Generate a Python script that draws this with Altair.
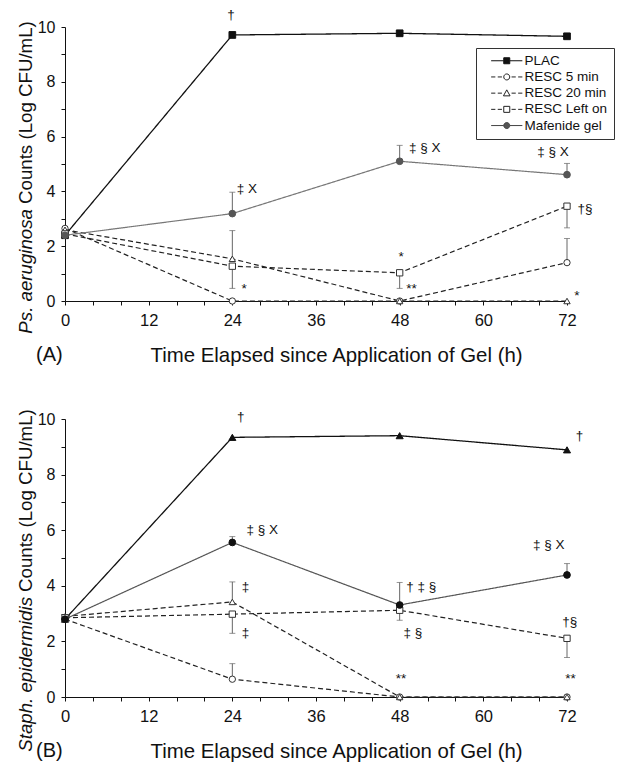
import altair as alt
import pandas as pd

FONT = "Liberation Sans"

hours = [0, 24, 48, 72]
series = ["PLAC", "RESC 5 min", "RESC 20 min", "RESC Left on", "Mafenide gel"]

# Panel A: Ps. aeruginosa (Log CFU/mL)
a_plac = [2.40, 9.71, 9.77, 9.66]
a_resc5 = [2.65, 0.0, 0.0, 1.40]
a_resc20 = [2.60, 1.54, 0.0, 0.0]
a_left = [2.45, 1.27, 1.03, 3.46]
a_maf = [2.40, 3.19, 5.10, 4.61]

# Panel B: Staph. epidermidis (Log CFU/mL)
b_plac = [2.80, 9.34, 9.40, 8.89]
b_resc5 = [2.80, 0.64, 0.0, 0.0]
b_resc20 = [2.90, 3.42, 0.0, 0.0]
b_left = [2.85, 2.98, 3.12, 2.11]
b_maf = [2.80, 5.56, 3.31, 4.39]

# one-sided error bars: series, hour, end of bar
a_err_series = ["Mafenide gel", "RESC 20 min", "RESC Left on", "Mafenide gel",
                "RESC Left on", "Mafenide gel", "RESC Left on", "RESC 5 min"]
a_err_hour = [24, 24, 24, 48, 48, 72, 72, 72]
a_err_end = [3.97, 2.57, 0.46, 5.68, 0.46, 5.02, 2.67, 2.28]

b_err_series = ["Mafenide gel", "RESC 20 min", "RESC Left on", "RESC 5 min",
                "Mafenide gel", "RESC Left on", "Mafenide gel", "RESC Left on"]
b_err_hour = [24, 24, 24, 24, 48, 48, 72, 72]
b_err_end = [5.77, 4.14, 2.29, 1.20, 4.12, 2.76, 4.80, 1.42]

# significance annotations
a_ann_text = ["†", "‡ X", "*", "‡ § X", "*", "**", "‡ § X", "†§", "*"]
a_ann_x = [23.8, 26.1, 25.7, 51.6, 48.2, 49.7, 70.0, 74.6, 73.4]
a_ann_y = [10.42, 4.08, 0.45, 5.58, 1.6, 0.45, 5.44, 3.35, 0.2]

b_ann_text = ["†", "‡ § X", "‡", "‡", "† ‡ §", "‡ §", "**", "†", "‡ § X", "†§", "**"]
b_ann_x = [25.2, 28.3, 25.9, 25.9, 51.1, 49.9, 48.2, 73.8, 69.4, 72.4, 72.5]
b_ann_y = [10.06, 6.01, 3.94, 2.32, 3.94, 2.32, 0.65, 9.40, 5.47, 2.71, 0.65]

x_ticks = list(range(0, 73, 4))
y_ticks = list(range(0, 11))

# legend symbols (line + marker) as custom paths
legend_paths = [
    "M0.4,0H2.5M3.5,0H5.6M2.5,-0.5H3.5V0.5H2.5Z",
    "M0.4,0H1.1M1.5,0H2.2M3.8,0H4.5M4.9,0H5.6M2.5,0A0.5,0.5 0 1,0 3.5,0A0.5,0.5 0 1,0 2.5,0Z",
    "M0.4,0H1.1M1.5,0H2.2M3.8,0H4.5M4.9,0H5.6M3.0,-0.55L3.55,0.45H2.45Z",
    "M0.4,0H1.1M1.5,0H2.2M3.8,0H4.5M4.9,0H5.6M2.5,-0.5H3.5V0.5H2.5Z",
    "M0.4,0H2.5M3.5,0H5.6M2.5,0A0.5,0.5 0 1,0 3.5,0A0.5,0.5 0 1,0 2.5,0Z",
]
legend_fills = ["#111111", "white", "white", "white", "#555555"]
legend_strokes = ["#111111", "#222222", "#222222", "#222222", "#444444"]

styles_a = {
    "PLAC": dict(line="#111111", dash=[1, 0], width=1.3, shape="square", fill="#111111", stroke="#111111", size=45),
    "RESC 5 min": dict(line="#222222", dash=[5, 3], width=1.2, shape="circle", fill="white", stroke="#333333", size=40),
    "RESC 20 min": dict(line="#222222", dash=[5, 3], width=1.2, shape="triangle-up", fill="white", stroke="#333333", size=40),
    "RESC Left on": dict(line="#222222", dash=[5, 3], width=1.2, shape="square", fill="white", stroke="#333333", size=40),
    "Mafenide gel": dict(line="#777777", dash=[1, 0], width=1.2, shape="circle", fill="#555555", stroke="#555555", size=45),
}
styles_b = dict(styles_a)
styles_b["PLAC"] = dict(styles_a["PLAC"], shape="triangle-up", size=50)
styles_b["Mafenide gel"] = dict(line="#555555", dash=[1, 0], width=1.2, shape="circle", fill="#111111", stroke="#111111", size=45)

x_axis = alt.Axis(
    values=x_ticks, labelExpr="datum.value % 12 === 0 ? datum.label : ''",
    title="Time Elapsed since Application of Gel (h)", titleX=271, titleY=60,
    titleBaseline="alphabetic", titleAlign="center", titleFontSize=20.4,
    titleFontWeight="normal", titleFont=FONT, labelFont=FONT, labelFontSize=16.5,
    labelPadding=7, tickSize=4, domainColor="#111", tickColor="#111",
    labelColor="#111", titleColor="#111", grid=False, labelFlush=False,
)
y_axis = alt.Axis(
    values=y_ticks, labelExpr="datum.value % 2 === 0 ? datum.label : ''",
    title=None, labelFont=FONT, labelFontSize=16, labelPadding=6, tickSize=4,
    domainColor="#111", tickColor="#111", labelColor="#111", grid=False,
)


def xenc(field="hour"):
    return alt.X(f"{field}:Q", scale=alt.Scale(domain=[0, 72], nice=False), axis=x_axis)


def yenc(field="value"):
    return alt.Y(f"{field}:Q", scale=alt.Scale(domain=[0, 10], nice=False), axis=y_axis)


def panel(vals, styles, err_s, err_h, err_e, ann_t, ann_x, ann_y, height,
          t_it, t_rest, split, letter, with_legend):
    layers = []
    data = {s: v for s, v in zip(series, vals)}
    for s in series:
        st = styles[s]
        df = pd.DataFrame({"hour": hours, "value": data[s]})
        layers.append(alt.Chart(df).mark_line(
            color=st["line"], strokeWidth=st["width"], strokeDash=st["dash"]
        ).encode(x=xenc(), y=yenc()))
    start = [data[s][hours.index(h)] for s, h in zip(err_s, err_h)]
    edf = pd.DataFrame({"hour": err_h, "start": start, "end": err_e})
    layers.append(alt.Chart(edf).mark_rule(color="#666666", strokeWidth=1).encode(
        x=xenc(), y=yenc("start"), y2="end"))
    layers.append(alt.Chart(edf).mark_tick(color="#666666", orient="horizontal",
                                           size=6, thickness=1).encode(x=xenc(), y=yenc("end")))
    for s in series:
        st = styles[s]
        df = pd.DataFrame({"hour": hours, "value": data[s]})
        layers.append(alt.Chart(df).mark_point(
            shape=st["shape"], filled=True, fill=st["fill"], stroke=st["stroke"],
            strokeWidth=1, size=st["size"], opacity=1
        ).encode(x=xenc(), y=yenc()))
    adf = pd.DataFrame({"hour": ann_x, "value": ann_y, "label": ann_t})
    layers.append(alt.Chart(adf).mark_text(font=FONT, fontSize=13.5, color="#111111",
                                           baseline="middle", align="center").encode(
        x=xenc(), y=yenc(), text="label:N"))
    layers.append(alt.Chart(pd.DataFrame({"t": [t_it]})).mark_text(
        font=FONT, fontSize=18.7, fontStyle="italic", angle=270, align="right",
        baseline="middle", color="#111").encode(
        text="t:N", x=alt.value(-39), y=alt.value(split)))
    layers.append(alt.Chart(pd.DataFrame({"t": [t_rest]})).mark_text(
        font=FONT, fontSize=18.7, angle=270, align="left", dx=5,
        baseline="middle", color="#111").encode(
        text="t:N", x=alt.value(-39), y=alt.value(split)))
    layers.append(alt.Chart(pd.DataFrame({"t": [letter]})).mark_text(
        font=FONT, fontSize=20, align="left", baseline="alphabetic", color="#111").encode(
        text="t:N", x=alt.value(-29), y=alt.value(height + 60)))
    if with_legend:
        ldf = pd.DataFrame({"series": series})
        leg = alt.Legend(
            title=None, orient="none", legendX=411, legendY=21, symbolSize=144,
            symbolStrokeWidth=1, labelFont=FONT,
            labelFontSize=13.5, labelColor="#111", labelOffset=29, padding=6,
            rowPadding=1.2, strokeColor="#333", fillColor="white", symbolOpacity=1,
            labelExpr="datum.label + '\u2003'",
        )
        layers.append(alt.Chart(ldf).mark_point(
            filled=True, opacity=1, strokeWidth=1
        ).encode(
            shape=alt.Shape("series:N", scale=alt.Scale(domain=series, range=legend_paths), legend=leg),
            fill=alt.Fill("series:N", scale=alt.Scale(domain=series, range=legend_fills), legend=leg),
            stroke=alt.Stroke("series:N", scale=alt.Scale(domain=series, range=legend_strokes), legend=leg),
        ).transform_filter("false"))
    return alt.layer(*layers).properties(width=502, height=height)


panel_a = panel([a_plac, a_resc5, a_resc20, a_left, a_maf], styles_a,
                a_err_series, a_err_hour, a_err_end, a_ann_text, a_ann_x, a_ann_y,
                274, "Ps. aeruginosa", "Counts (Log CFU/mL)", 182, "(A)", True)
panel_b = panel([b_plac, b_resc5, b_resc20, b_left, b_maf], styles_b,
                b_err_series, b_err_hour, b_err_end, b_ann_text, b_ann_x, b_ann_y,
                278, "Staph. epidermidis", "Counts (Log CFU/mL)", 178, "(B)", False)

chart = alt.vconcat(panel_a, panel_b, spacing=43).resolve_legend(
    shape="independent", fill="independent", stroke="independent"
).properties(
    padding={"left": 8, "top": 0, "right": 0, "bottom": 0}
).configure(font=FONT).configure_view(strokeWidth=0, stroke="transparent")

chart.save("out.html", embed_options={"renderer": "svg", "actions": False})
